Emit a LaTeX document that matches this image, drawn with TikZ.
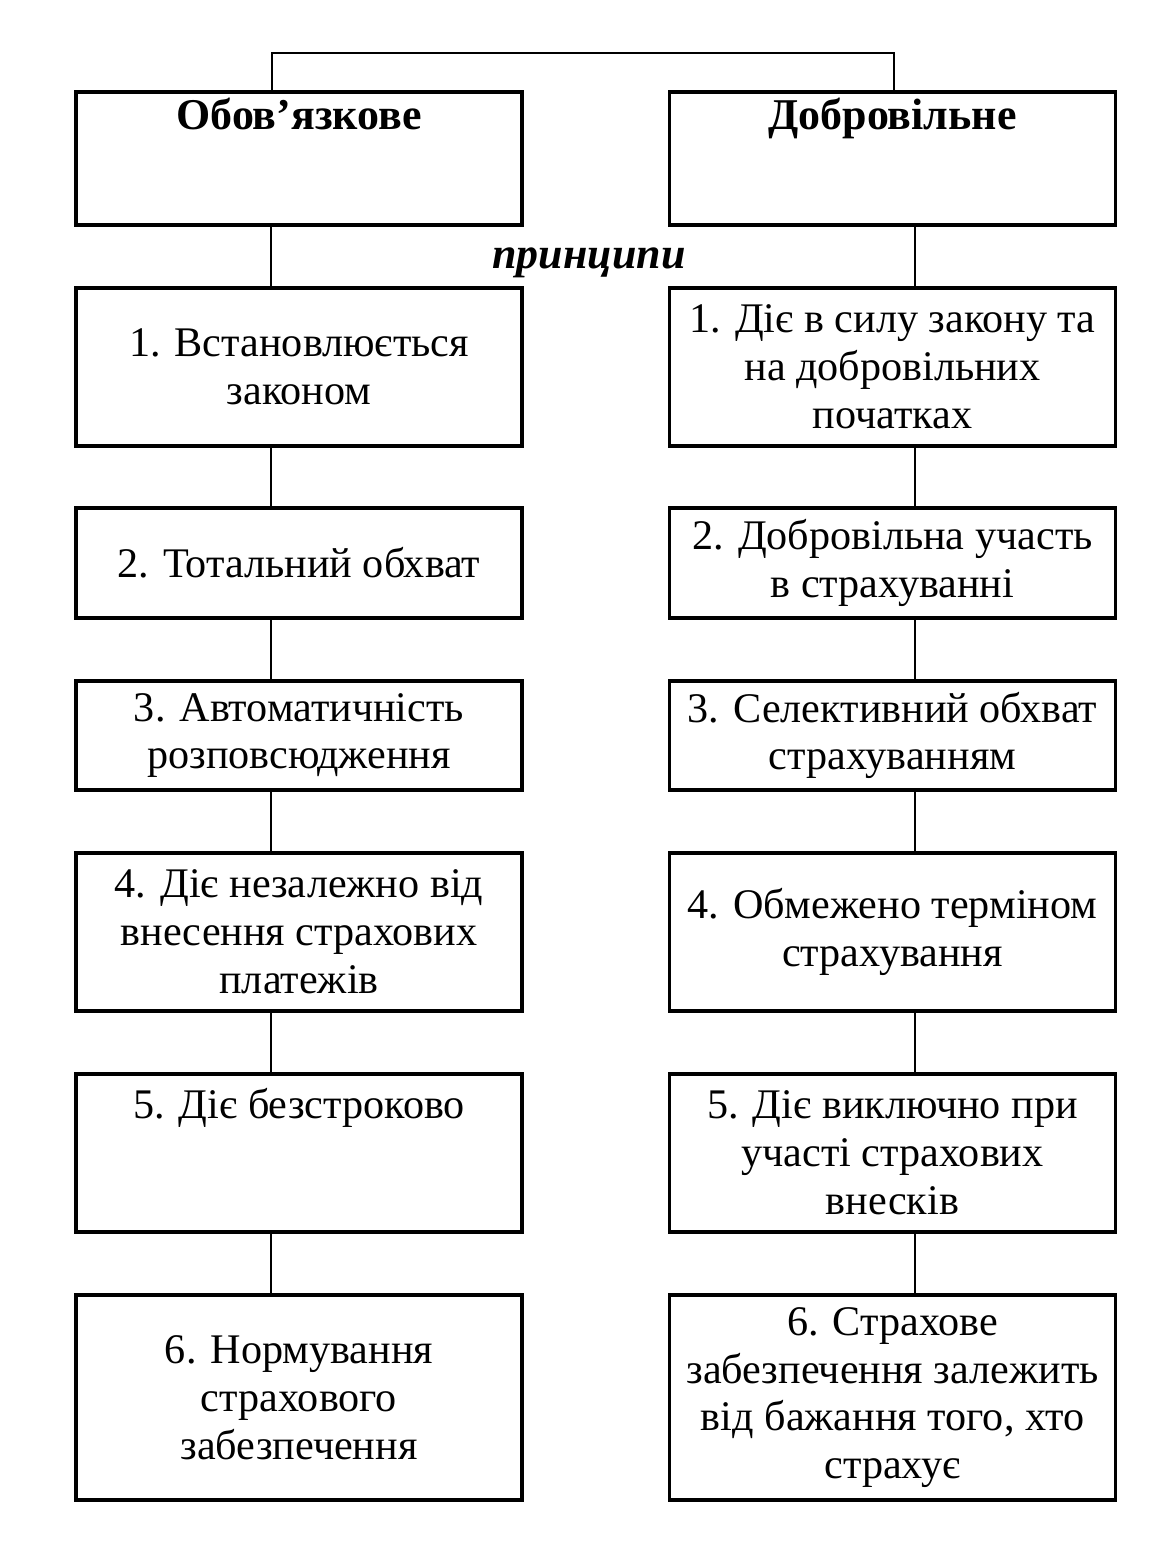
\documentclass[tikz,border=0pt]{standalone}
\usepackage{fontspec}
\setmainfont{Liberation Serif}
\usetikzlibrary{positioning, calc}

\begin{document}
\begin{tikzpicture}[
    every node/.style={font=\fontsize{12}{13.6}\selectfont},
    box/.style={draw, line width=0.9pt, minimum width=4.46cm, align=center, inner sep=2pt},
    headtext/.style={font=\fontsize{12.5}{14}\selectfont\bfseries, anchor=base, inner sep=0pt},
    topline/.style={anchor=base, inner sep=0pt}
]
\useasboundingbox (0,0) rectangle (11.53,-15.48);

% top row
\node[box, minimum height=1.33cm] (obov) at (2.99,-1.585) {};
\node[box, minimum height=1.33cm] (dobr) at (8.925,-1.585) {};
\node[headtext] (obovt) at ([yshift=-0.39cm]obov.north) {Обов’язкове};
\node[headtext] (dobrt) at ([yshift=-0.39cm]dobr.north) {Добровільне};
\node[font=\fontsize{12.5}{14}\selectfont\bfseries\itshape] (pryn) at (5.89,-2.63) {принципи};

% left column
\node[box, minimum height=1.58cm] (l1) at (2.99,-3.67) {1. Встановлюється\\законом};
\node[box, minimum height=1.10cm] (l2) at (2.99,-5.63) {2. Тотальний обхват};
\node[box, minimum height=1.09cm] (l3) at (2.99,-7.355) {3. Автоматичність\\розповсюдження};
\node[box, minimum height=1.58cm] (l4) at (2.99,-9.32) {4. Діє незалежно від\\внесення страхових\\платежів};
\node[box, minimum height=1.58cm] (l5) at (2.99,-11.53) {};
\node[topline] (l5t) at ([yshift=-0.46cm]l5.north) {5. Діє безстроково};
\node[box, minimum height=2.05cm] (l6) at (2.99,-13.975) {6. Нормування\\страхового\\забезпечення};

% right column
\node[box, minimum height=1.58cm] (r1) at (8.925,-3.67) {1. Діє в силу закону та\\на добровільних\\початках};
\node[box, minimum height=1.10cm] (r2) at (8.925,-5.63) {2. Добровільна участь\\в страхуванні};
\node[box, minimum height=1.09cm] (r3) at (8.925,-7.355) {3. Селективний обхват\\страхуванням};
\node[box, minimum height=1.58cm] (r4) at (8.925,-9.32) {4. Обмежено терміном\\страхування};
\node[box, minimum height=1.58cm] (r5) at (8.925,-11.53) {5. Діє виключно при\\участі страхових\\внесків};
\node[box, minimum height=2.05cm] (r6) at (8.925,-13.975) {6. Страхове\\забезпечення залежить\\від бажання того, хто\\страхує};

% connectors
\coordinate (tl) at (2.72,-0.53);
\coordinate (tr) at (8.94,-0.53);
\coordinate (lx) at (2.71,0);
\coordinate (rx) at (9.15,0);
\draw[line width=0.8pt] (obov.north -| tl) |- (tr) -- (dobr.north -| tr);
\draw[line width=0.7pt] (obov.south -| lx) -- (l1.north -| lx)
    (l1.south -| lx) -- (l2.north -| lx)
    (l2.south -| lx) -- (l3.north -| lx)
    (l3.south -| lx) -- (l4.north -| lx)
    (l4.south -| lx) -- (l5.north -| lx)
    (l5.south -| lx) -- (l6.north -| lx);
\draw[line width=0.7pt] (dobr.south -| rx) -- (r1.north -| rx)
    (r1.south -| rx) -- (r2.north -| rx)
    (r2.south -| rx) -- (r3.north -| rx)
    (r3.south -| rx) -- (r4.north -| rx)
    (r4.south -| rx) -- (r5.north -| rx)
    (r5.south -| rx) -- (r6.north -| rx);
\end{tikzpicture}
\end{document}
